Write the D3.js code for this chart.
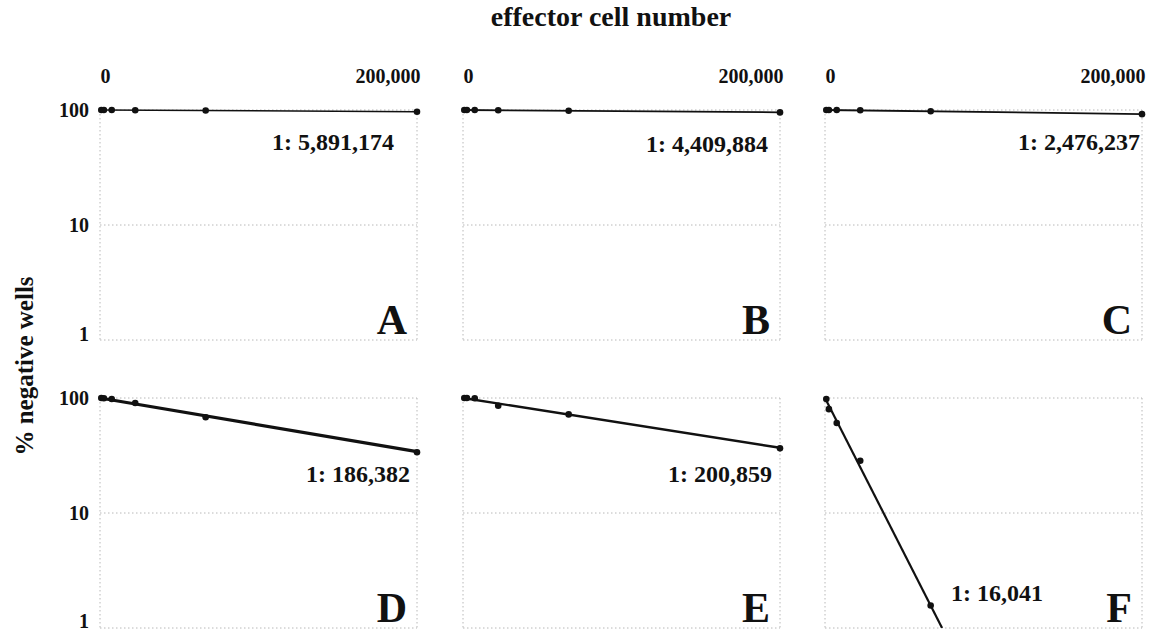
<!DOCTYPE html>
<html>
<head>
<meta charset="utf-8">
<script src="https://cdn.jsdelivr.net/npm/d3@7"></script>
<style>
  body { margin: 0; background: #fff; }
  text { font-family: "Liberation Serif", "Times New Roman", serif; font-weight: bold; fill: #111; }
</style>
</head>
<body>
<script>
// * DATA
const doses = [823, 2469, 7407, 22222, 66667, 200000];
const panelLetters = ["A", "B", "C", "D", "E", "F"];
const frequencyLabels = ["1: 5,891,174", "1: 4,409,884", "1: 2,476,237", "1: 186,382", "1: 200,859", "1: 16,041"];
const negA = [100, 100, 100, 99.6, 99, 96.7];
const negB = [100, 100, 100, 99.5, 98.5, 95.3];
const negC = [100, 100, 100, 99.6, 97.5, 92];
const negD = [100, 99.5, 98, 90.5, 68, 33.7];
const negE = [100, 100, 99.5, 85.7, 72, 36.5];
const negF = [98, 80, 60.6, 28.5, 1.57, null]; // no negative wells at 200,000
const fitEndX = [200000, 200000, 200000, 200000, 200000, 73870];
const fitEndY = [96.7, 95.5, 92.2, 34.2, 36.9, 1];
const xTickValues = [0, 200000];
const xTickLabels = ["0", "200,000"];
const yTickValues = [1, 10, 100];
const yTickLabels = ["1", "10", "100"];

const series = [negA, negB, negC, negD, negE, negF];

// * LAYOUT
const width = 1153, height = 633;
const colLeft = [100, 463, 825];
const panelW = 317;
const rowTop = [110, 398];
const panelH = 230;
// fit label anchor (end) relative to panel: [dx from left, dy from top]
const labelPos = [[294, 40], [305, 42], [315, 40], [310, 84], [309, 84], [218, 203]];
const lineWidths = [1.6, 1.8, 1.8, 3.2, 2.4, 2.2];

const svg = d3.select("body").append("svg")
  .attr("width", width)
  .attr("height", height)
  .attr("viewBox", [0, 0, width, height]);

svg.append("text")
  .attr("x", 611).attr("y", 26)
  .attr("text-anchor", "middle")
  .attr("font-size", 28)
  .text("effector cell number");

svg.append("text")
  .attr("transform", "translate(33,366) rotate(-90)")
  .attr("text-anchor", "middle")
  .attr("font-size", 25)
  .text("% negative wells");

const defs = svg.append("defs");

series.forEach((values, i) => {
  const col = i % 3, row = Math.floor(i / 3);
  const x = d3.scaleLinear().domain([0, 200000]).range([colLeft[col], colLeft[col] + panelW]);
  const y = d3.scaleLog().domain([1, 100]).range([rowTop[row] + panelH, rowTop[row]]);
  const g = svg.append("g");

  // dotted frame + grid
  const grid = g.append("g")
    .attr("stroke", "#b8b8b8")
    .attr("stroke-width", 1)
    .attr("stroke-dasharray", "1.5,2.5")
    .attr("fill", "none");
  grid.selectAll("line.h")
    .data(yTickValues)
    .join("line")
    .attr("class", "h")
    .attr("x1", x(0)).attr("x2", x(200000))
    .attr("y1", d => y(d)).attr("y2", d => y(d));
  grid.selectAll("line.v")
    .data(xTickValues)
    .join("line")
    .attr("class", "v")
    .attr("x1", d => x(d)).attr("x2", d => x(d))
    .attr("y1", y(100)).attr("y2", y(1));

  // top axis on first row
  if (row === 0) {
    g.append("g")
      .attr("transform", `translate(0,86)`)
      .call(d3.axisTop(x).tickValues(xTickValues).tickFormat((d, k) => xTickLabels[k]).tickSize(0))
      .call(a => a.select(".domain").remove())
      .call(a => a.selectAll("text")
        .attr("font-size", 20)
        .attr("font-family", null)
        .attr("fill", "#111")
        .attr("text-anchor", (d, k) => k === 0 ? "middle" : "end")
        .attr("dx", (d, k) => k === 0 ? 5 : 3));
  }
  // left axis on first column
  if (col === 0) {
    g.append("g")
      .attr("transform", `translate(${x(0) - 8},0)`)
      .call(d3.axisLeft(y).tickValues(yTickValues).tickFormat((d, k) => yTickLabels[k]).tickSize(0))
      .call(a => a.select(".domain").remove())
      .call(a => a.selectAll("text")
        .attr("font-size", 20)
        .attr("font-family", null)
        .attr("fill", "#111")
        .attr("dy", d => d === 1 ? (row === 1 ? "-0.05em" : "0em") : "0.32em"));
  }

  const clipId = "clip" + i;
  defs.append("clipPath").attr("id", clipId)
    .append("rect")
    .attr("x", x(0) - 4).attr("y", y(100) - 4)
    .attr("width", panelW + 8).attr("height", panelH + 4);

  // fitted line
  g.append("line")
    .attr("clip-path", `url(#${clipId})`)
    .attr("x1", x(0)).attr("y1", y(100))
    .attr("x2", x(fitEndX[i])).attr("y2", y(fitEndY[i]))
    .attr("stroke", "#111")
    .attr("stroke-width", lineWidths[i]);

  // measured points
  const pts = doses.map((d, k) => [d, values[k]]).filter(p => p[1] != null);
  g.selectAll("circle")
    .data(pts)
    .join("circle")
    .attr("cx", d => x(d[0]))
    .attr("cy", d => y(d[1]))
    .attr("r", 3.3)
    .attr("fill", "#111");

  g.append("text")
    .attr("x", x(0) + labelPos[i][0])
    .attr("y", y(100) + labelPos[i][1])
    .attr("text-anchor", "end")
    .attr("font-size", 24)
    .text(frequencyLabels[i]);

  g.append("text")
    .attr("x", x(200000) - 10)
    .attr("y", y(1) - 6)
    .attr("text-anchor", "end")
    .attr("font-size", 42)
    .text(panelLetters[i]);
});
</script>
</body>
</html>
